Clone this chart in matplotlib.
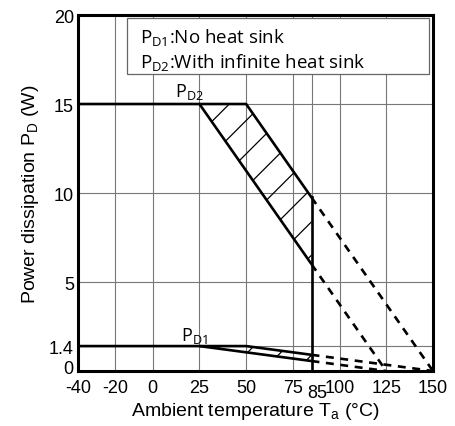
import matplotlib.pyplot as plt
import matplotlib.patches as mpatches
import matplotlib.transforms as mtransforms
import numpy as np

plt.rcParams['font.family'] = ['Liberation Sans', 'DejaVu Sans']
plt.rcParams['hatch.linewidth'] = 0.9

# x ticks / y ticks
xticks = [-40, -20, 0, 25, 50, 75, 85, 100, 125, 150]
yticks = [0, 1.4, 5, 10, 15, 20]

# derating curves: (Ta, Pd) corner points
pd2_low_x = [-40, 25, 85]
pd2_low_y = [15, 15, 6.0]
pd2_high_x = [25, 50, 85]
pd2_high_y = [15, 15, 9.75]
pd2_low_dash_x = [85, 125]
pd2_low_dash_y = [6.0, 0]
pd2_high_dash_x = [85, 150]
pd2_high_dash_y = [9.75, 0]

pd1_low_x = [-40, 25, 85]
pd1_low_y = [1.4, 1.4, 0.56]
pd1_high_x = [25, 50, 85]
pd1_high_y = [1.4, 1.4, 0.91]
pd1_low_dash_x = [85, 125]
pd1_low_dash_y = [0.56, 0]
pd1_high_dash_x = [85, 150]
pd1_high_dash_y = [0.91, 0]

fig = plt.figure(figsize=(4.55, 4.27), dpi=100)
ax = fig.add_axes([0.1714, 0.1288, 0.7802, 0.8337])
ax.set_xlim(-40, 150)
ax.set_ylim(0, 20)

# grid
for xv in xticks[1:-1]:
    ax.axvline(xv, color='#777777', lw=0.8, zorder=1)
for yv in yticks[1:-1]:
    ax.axhline(yv, color='#777777', lw=0.8, zorder=1)

lw = 1.9
# hatched bands
xs = np.array([25, 50, 85])
lo2 = np.interp(xs, pd2_low_x, pd2_low_y)
hi2 = np.interp(xs, pd2_high_x, pd2_high_y)
ax.fill_between(xs, lo2, hi2, facecolor='none', edgecolor='black', hatch='/', lw=0, zorder=2)
lo1 = np.interp(xs, pd1_low_x, pd1_low_y)
hi1 = np.interp(xs, pd1_high_x, pd1_high_y)
ax.fill_between(xs, lo1, hi1, facecolor='none', edgecolor='black', hatch='/', lw=0, zorder=2)

for px, py in [(pd2_low_x, pd2_low_y), (pd2_high_x, pd2_high_y),
               (pd1_low_x, pd1_low_y), (pd1_high_x, pd1_high_y)]:
    ax.plot(px, py, color='black', lw=lw, zorder=3, solid_capstyle='butt')
for px, py in [(pd2_low_dash_x, pd2_low_dash_y), (pd2_high_dash_x, pd2_high_dash_y),
               (pd1_low_dash_x, pd1_low_dash_y), (pd1_high_dash_x, pd1_high_dash_y)]:
    ax.plot(px, py, color='black', lw=lw, ls=(0, (3, 2.5)), zorder=3)
ax.plot([85, 85], [0, pd2_high_y[-1]], color='black', lw=lw, zorder=3)

lab_font = ['Open Sans', 'DejaVu Sans']
ax.text(12, 15.45, r'P$_{\mathregular{D2}}$', fontsize=13, family=lab_font, zorder=4)
ax.text(15, 1.75, r'P$_{\mathregular{D1}}$', fontsize=13, family=lab_font, zorder=4)

# legend box
ax.add_patch(mpatches.Rectangle((-13.8, 16.7), 161.5, 3.15, facecolor='white',
                                edgecolor='#666666', lw=0.9, zorder=5))
ax.text(-6.8, 18.45, r'P$_{\mathregular{D1}}$:No heat sink', fontsize=13.5,
        family=lab_font, zorder=6)
ax.text(-6.8, 17.05, r'P$_{\mathregular{D2}}$:With infinite heat sink', fontsize=13.5,
        family=lab_font, zorder=6)

for s in ax.spines.values():
    s.set_linewidth(2.2)
    s.set_zorder(7)

ax.set_xticks(xticks)
ax.set_xticklabels(['-40', '-20', '0', '25', '50', '75', '', '100', '125', '150'])
ax.text(88, -0.75, '85', fontsize=13, ha='center', va='top')
ax.set_yticks(yticks)
ax.set_yticklabels(['0', '1.4', '5', '10', '15', '20'])
ax.tick_params(length=0, labelsize=13)
ax.tick_params(axis='x', pad=5.5)
ax.tick_params(axis='y', pad=3)
# lift the "0" label a little so it clears "-40"
zero_lbl = ax.get_yticklabels()[0]
zero_lbl.set_transform(zero_lbl.get_transform() +
                       mtransforms.ScaledTranslation(0, 3 / 72, fig.dpi_scale_trans))
ax.set_xlabel(r'Ambient temperature T$_{\mathregular{a}}$ (°C)', fontsize=14, labelpad=3)
ax.set_ylabel(r'Power dissipation P$_{\mathregular{D}}$ (W)', fontsize=14, labelpad=6)

fig.savefig('out.png', dpi=100)
